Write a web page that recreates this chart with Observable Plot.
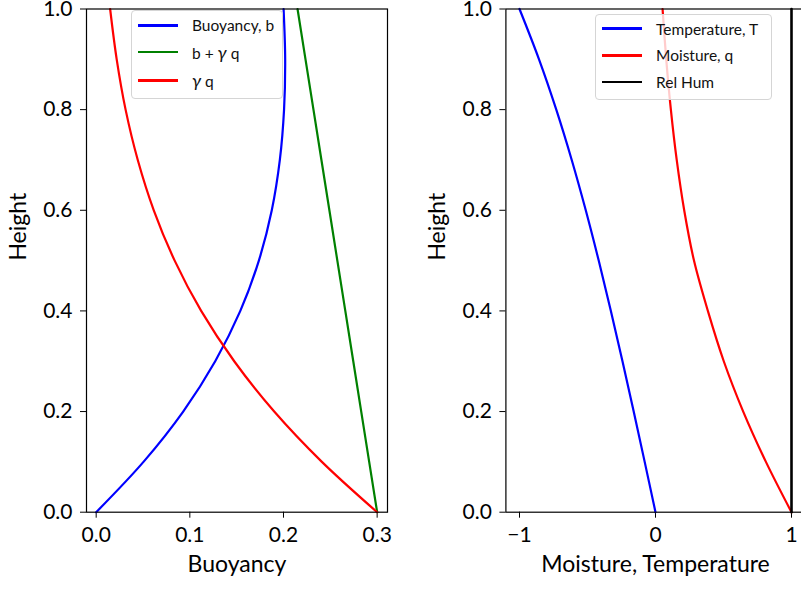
<!DOCTYPE html>
<html>
<head>
<meta charset="utf-8">
<script src="https://cdn.jsdelivr.net/npm/d3@7"></script>
<script src="https://cdn.jsdelivr.net/npm/@observablehq/plot@0.6"></script>
<style>
  html, body { margin: 0; padding: 0; background: white; overflow: hidden; }
  #wrap { position: relative; width: 801px; height: 592px; overflow: hidden; font-family: Lato, sans-serif; }
  .panel { position: absolute; top: 0; }
  .legend { position: absolute; background: rgba(255,255,255,0.8); border: 1px solid #d5d5d5; border-radius: 4px; box-sizing: border-box; }
  .row { position: absolute; left: 0; height: 20px; display: flex; align-items: center; }
  .sw { width: 40px; height: 2.5px; margin-left: 6px; margin-right: 14px; }
  .lbl { font-size: 15.5px; color: #111; white-space: nowrap; }
  .g { font-style: italic; font-size: 18px; }
</style>
</head>
<body>
<div id="wrap"></div>
<script>
// ---- data ----
const heights      = [0, 0.1, 0.2, 0.3, 0.4, 0.5, 0.6, 0.7, 0.8, 0.9, 1.0];
// left panel
const buoyancy     = [0, 0.0505, 0.0929, 0.1271, 0.1539, 0.1737, 0.1875, 0.1961, 0.2006, 0.2018, 0.2001];
const bPlusGammaQ  = [0.300, 0.2915, 0.283, 0.2745, 0.266, 0.2575, 0.249, 0.2405, 0.232, 0.2235, 0.215];
const gammaQ       = [0.300, 0.2410, 0.1901, 0.1474, 0.1121, 0.0838, 0.0615, 0.0444, 0.0314, 0.0219, 0.0149];
// right panel
const temperature  = [0, -0.0795, -0.1603, -0.2428, -0.3281, -0.4175, -0.5127, -0.6159, -0.7295, -0.8565, -1.0];
const moisture     = [1.0, 0.812, 0.645, 0.502, 0.385, 0.283, 0.211, 0.156, 0.113, 0.079, 0.052];
const relHum       = [1, 1, 1, 1, 1, 1, 1, 1, 1, 1, 1];
// ticks and labels
const yTicks       = [0, 0.2, 0.4, 0.6, 0.8, 1.0];
const xTicksLeft   = [0, 0.1, 0.2, 0.3];
const xTicksRight  = [-1, 0, 1];
const leftLegend   = ["Buoyancy, b", "b + γ q", "γ q"];
const rightLegend  = ["Temperature, T", "Moisture, q", "Rel Hum"];

const rows = heights.map((h, i) => ({
  h, b: buoyancy[i], bg: bPlusGammaQ[i], gq: gammaQ[i],
  T: temperature[i], q: moisture[i], rh: relHum[i]
}));

const common = {
  height: 592,
  marginTop: 8.5,
  marginBottom: 80.3,
  style: { fontFamily: "Lato, sans-serif", fontSize: "21px", color: "black", background: "transparent", overflow: "visible" }
};
const yOpt = { domain: [0, 1], ticks: yTicks, tickFormat: ".1f", tickSize: 6, tickPadding: 8, label: null };

const left = Plot.plot({
  ...common,
  width: 400,
  marginLeft: 86,
  marginRight: 13,
  x: { domain: [-0.01034, 0.31105], ticks: xTicksLeft, tickFormat: ".1f", tickSize: 6, tickPadding: 9, label: null },
  y: yOpt,
  marks: [
    Plot.line(rows, { x: "b", y: "h", stroke: "#0000ff", strokeWidth: 2.2, curve: "catmull-rom" }),
    Plot.line(rows, { x: "bg", y: "h", stroke: "#008000", strokeWidth: 2.2 }),
    Plot.line(rows, { x: "gq", y: "h", stroke: "#ff0000", strokeWidth: 2.2, curve: "catmull-rom" }),
    Plot.frame({ stroke: "black", strokeWidth: 1.2 }),
    Plot.text(["Height"], { frameAnchor: "left", dx: -68, rotate: -90, fontSize: 23 }),
    Plot.text(["Buoyancy"], { frameAnchor: "bottom", dy: 60, fontSize: 23 })
  ]
});

const right = Plot.plot({
  ...common,
  width: 410,
  marginLeft: 105.4,
  marginRight: 5.4,
  x: { domain: [-1.1, 1.1], ticks: xTicksRight, tickFormat: d3.format("d"), tickSize: 6, tickPadding: 9, label: null },
  y: yOpt,
  marks: [
    Plot.line(rows, { x: "T", y: "h", stroke: "#0000ff", strokeWidth: 2.2, curve: "catmull-rom" }),
    Plot.line(rows, { x: "q", y: "h", stroke: "#ff0000", strokeWidth: 2.2, curve: "catmull-rom" }),
    Plot.line(rows, { x: "rh", y: "h", stroke: "black", strokeWidth: 2.6 }),
    Plot.frame({ stroke: "black", strokeWidth: 1.2 }),
    Plot.text(["Height"], { frameAnchor: "left", dx: -68, rotate: -90, fontSize: 23 }),
    Plot.text(["Moisture, Temperature"], { frameAnchor: "bottom", dy: 60, fontSize: 23 })
  ]
});

const wrap = document.getElementById("wrap");
left.classList.add("panel"); left.style.left = "0px";
right.classList.add("panel"); right.style.left = "400px";
wrap.appendChild(left);
wrap.appendChild(right);

function legend(items, colors, box, rowYs) {
  const d = document.createElement("div");
  d.className = "legend";
  d.style.left = box[0] + "px"; d.style.top = box[1] + "px";
  d.style.width = box[2] + "px"; d.style.height = box[3] + "px";
  items.forEach((t, i) => {
    const r = document.createElement("div");
    r.className = "row";
    r.style.top = (rowYs[i] - box[1] - 10) + "px";
    const s = document.createElement("div");
    s.className = "sw"; s.style.background = colors[i];
    const l = document.createElement("div");
    l.className = "lbl";
    l.innerHTML = t.replace("γ", '<span class="g">γ</span>');
    r.appendChild(s); r.appendChild(l);
    d.appendChild(r);
  });
  wrap.appendChild(d);
}
legend(leftLegend, ["#0000ff", "#008000", "#ff0000"], [131, 10, 152, 89], [24.3, 51, 79.3]);
legend(rightLegend, ["#0000ff", "#ff0000", "black"], [595, 14, 177, 86], [27.7, 54.3, 81]);
</script>
</body>
</html>
